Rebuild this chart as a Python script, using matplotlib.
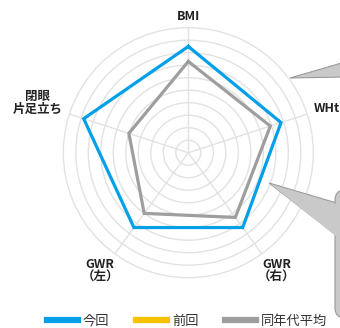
import numpy as np
import matplotlib
matplotlib.use("Agg")
import matplotlib.pyplot as plt
from matplotlib.lines import Line2D
from matplotlib.patches import Polygon, FancyBboxPatch

plt.rcParams['font.family'] = ['Noto Sans CJK JP', 'DejaVu Sans']

# 体力測定の項目（時計回り、上から）
labels = ['BMI', 'WHtR', 'GWR\n（右）', 'GWR\n（左）', '閉眼\n片足立ち']
current = [8.5, 7.8, 7.4, 7.4, 8.8]      # 今回
previous = []                             # 前回（データなし）
age_avg = [7.3, 6.9, 6.4, 6.0, 5.0]       # 同年代平均

BLUE = '#00a0e9'
YELLOW = '#f8c100'
GRAY = '#9e9e9e'
GRID = '#e2e2e2'

W, H = 340, 328
fig = plt.figure(figsize=(W / 100, H / 100), dpi=100)

# レーダーの中心と半径（ピクセル）
cx, cy, R = 188.3, 152.7, 125
ax = fig.add_axes([(cx - R) / W, (H - cy - R) / H, 2 * R / W, 2 * R / H],
                  projection='polar')
ax.set_theta_offset(np.pi / 2)
ax.set_theta_direction(-1)

angles = np.linspace(0, 2 * np.pi, len(labels), endpoint=False)
ax.set_ylim(0, 10)
ax.set_yticks(np.arange(1, 10))
ax.set_yticklabels([])
ax.set_xticks(angles)
ax.set_xticklabels([])
ax.grid(color=GRID, lw=1.0)
ax.spines['polar'].set_color(GRID)
ax.spines['polar'].set_linewidth(1.0)
ax.tick_params(length=0)
ax.set_facecolor('none')


def closed(vals):
    return np.append(angles, angles[0]), np.append(vals, vals[0])


t, r = closed(age_avg)
ax.plot(t, r, color=GRAY, lw=2.3, solid_joinstyle='miter', zorder=3)
t, r = closed(current)
ax.plot(t, r, color=BLUE, lw=2.3, solid_joinstyle='miter', zorder=4)

# 項目ラベル
lab_kw = dict(fontsize=9, fontweight='bold', color='#222222',
              ha='center', va='center', linespacing=1.0)
fig.text(188 / W, 1 - 16 / H, labels[0], **lab_kw)
fig.text(314 / W, 1 - 109 / H, 'WHtR', **{**lab_kw, 'ha': 'left'})
fig.text(277 / W, 1 - 271 / H, labels[2], **lab_kw)
fig.text(100 / W, 1 - 271 / H, labels[3], **lab_kw)
fig.text(38 / W, 1 - 103 / H, labels[4], **lab_kw)

# 右側の吹き出し
def px(x, y):
    return (x / W, 1 - y / H)


bubble_kw = dict(transform=fig.transFigure, facecolor='#c9c9c9',
                 edgecolor='#9a9a9a', lw=0.8, zorder=10)
fig.patches.append(Polygon([px(290, 78), px(345, 62), px(345, 77)], **bubble_kw))
fig.patches.append(Polygon([px(269, 183), px(340, 204), px(340, 238)], **bubble_kw))
fig.patches.append(FancyBboxPatch(px(335, 318), 30 / W, 128 / H,
                                  boxstyle='round,pad=0,rounding_size=0.03',
                                  **bubble_kw))
fig.patches.append(Polygon([px(270.5, 184), px(337, 204), px(337, 237)],
                           transform=fig.transFigure, facecolor='#c9c9c9',
                           edgecolor='none', zorder=11))

# 凡例
handles = [Line2D([], [], color=BLUE, lw=4.5),
           Line2D([], [], color=YELLOW, lw=4.5),
           Line2D([], [], color=GRAY, lw=4.5)]
fig.legend(handles, ['今回', '前回', '同年代平均'], loc='center',
           bbox_to_anchor=(187 / W, 1 - 321 / H), ncol=3, frameon=False,
           fontsize=9.5, handlelength=2.35, handletextpad=0.4,
           columnspacing=2.0, borderpad=0, labelcolor='#333333')

fig.savefig('out.png', dpi=100)
